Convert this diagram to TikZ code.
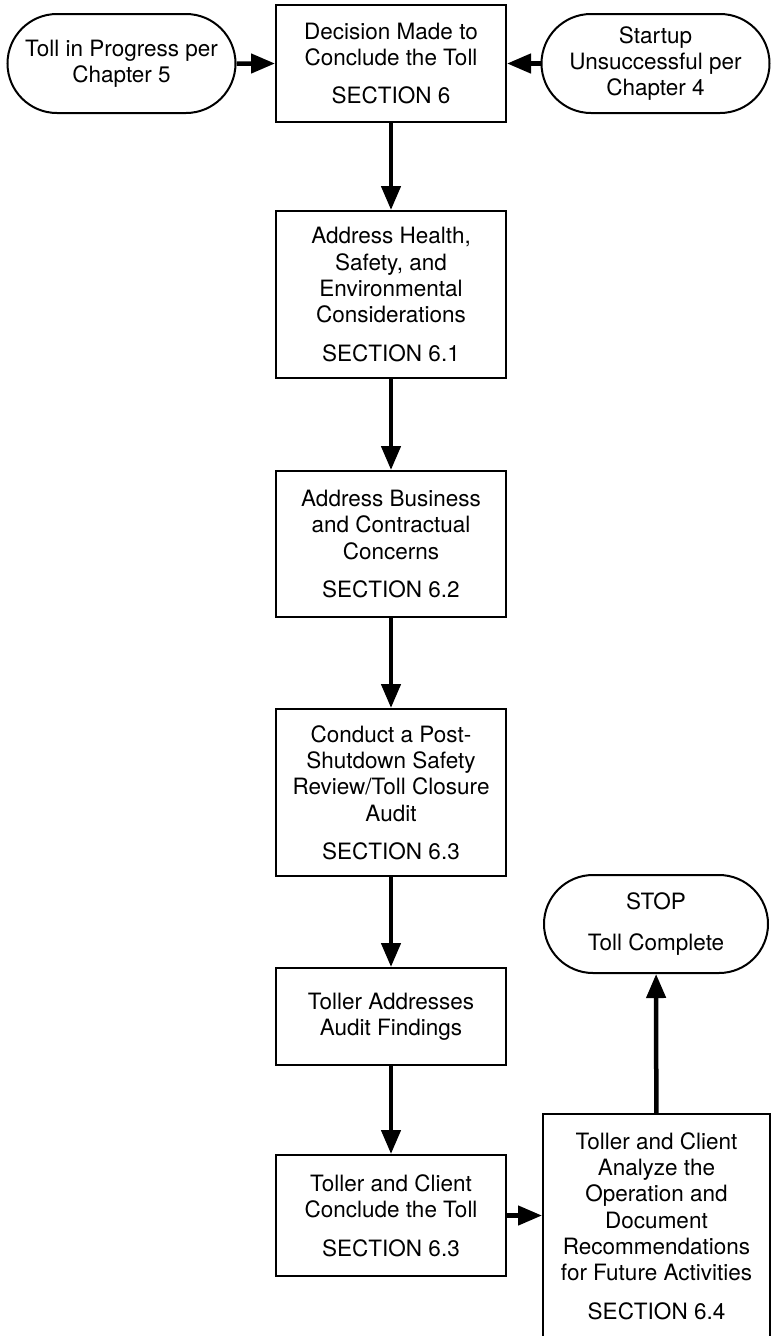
\documentclass[tikz,border=0pt]{standalone}
\usepackage{fontspec}
\setmainfont{TeX Gyre Heros}
\usetikzlibrary{arrows.meta,shapes.misc}

\begin{document}
\begin{tikzpicture}[x=1pt, y=-1pt,
    every node/.style={align=center, inner sep=0pt, font=\fontsize{22.5}{26.3}\selectfont},
    box/.style={draw, line width=2pt, minimum width=230pt},
    term/.style={draw, rounded rectangle, line width=2pt, minimum width=228pt, minimum height=99pt},
    flow/.style={line width=4.5pt, -{Triangle[length=24pt, width=19pt]}}]
    \clip (0,0) rectangle (771,1336);
    % Entry points
    \node[term] (progress) at (121.5,63.5) {Toll in Progress per\\Chapter 5};
    \node[term] (startup) at (655.5,63.5) {Startup\\Unsuccessful per\\Chapter 4};
    % Main column
    \node[box, minimum height=117pt] (decision) at (391,63.5) {Decision Made to\\Conclude the Toll\\[12pt]SECTION 6};
    \node[box, minimum height=167pt] (hse) at (391,294.5) {Address Health,\\Safety, and\\Environmental\\Considerations\\[12pt]SECTION 6.1};
    \node[box, minimum height=146pt] (business) at (391,544) {Address Business\\and Contractual\\Concerns\\[12pt]SECTION 6.2};
    \node[box, minimum height=167pt] (review) at (391,792.5) {Conduct a Post-\\Shutdown Safety\\Review/Toll Closure\\Audit\\[12pt]SECTION 6.3};
    \node[box, minimum height=97pt] (findings) at (391,1016.5) {Toller Addresses\\Audit Findings};
    \node[box, minimum height=121pt] (conclude) at (391,1215.5) {Toller and Client\\Conclude the Toll\\[12pt]SECTION 6.3};
    % Right column
    \node[box, minimum width=227pt, minimum height=224pt] (analyze) at (656.5,1226) {Toller and Client\\Analyze the\\Operation and\\Document\\Recommendations\\for Future Activities\\[12pt]SECTION 6.4};
    \node[term, minimum width=224pt, minimum height=98pt] (stop) at (656,924) {STOP\\[14pt]Toll Complete};
    % Connectors
    \draw[flow] (progress) -- (decision);
    \draw[flow] (startup) -- (decision);
    \draw[flow] (decision) -- (hse);
    \draw[flow] (hse) -- (business);
    \draw[flow] (business) -- (review);
    \draw[flow] (review) -- (findings);
    \draw[flow] (findings) -- (conclude);
    \draw[flow] (conclude.east) -- (conclude.east -| analyze.west);
    \draw[flow] (analyze) -- (stop);
\end{tikzpicture}
\end{document}
